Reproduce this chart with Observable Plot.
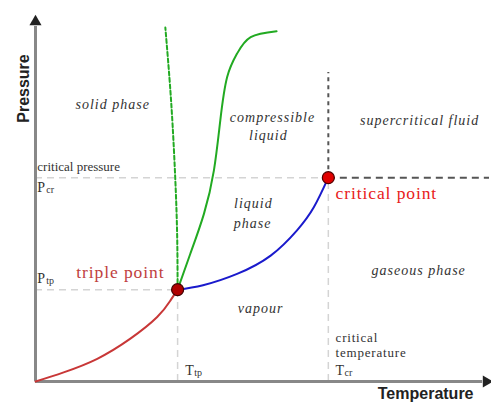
<!DOCTYPE html>
<html>
<head>
<meta charset="utf-8">
<script src="https://cdn.jsdelivr.net/npm/d3@7"></script>
<script src="https://cdn.jsdelivr.net/npm/@observablehq/plot@0.6"></script>
<style>
  body { margin: 0; background: #fff; }
  g.sp text { letter-spacing: 1px; }
  g.pt text { letter-spacing: 0.9px; }
  g.nt text { letter-spacing: 0.8px; }
</style>
</head>
<body>
<div id="chart"></div>
<script>
// Temperature / pressure in arbitrary units (0–100)
const triplePoint = {T: 31.3, P: 25.1};
const criticalPoint = {T: 64.5, P: 55.7};

const sublimationT = [0, 6.2, 13.6, 20.9, 26.8, 29.7, 31.3];
const sublimationP = [0, 2.5, 6.2, 11.7, 17.6, 22.1, 25.1];

const vaporT = [31.3, 36.9, 44.4, 51.8, 57.6, 61.3, 64.5];
const vaporP = [25.1, 26.3, 29.4, 34.4, 41.3, 47.6, 55.7];

const meltT = [31.3, 34.1, 37.1, 39.3, 40.7, 42.2, 44.4, 47.4, 53.1];
const meltP = [25.1, 34.9, 45.8, 57.7, 71.3, 83.1, 89.6, 94.1, 95.7];

const meltAnomT = [31.3, 31.2, 30.8, 30.2, 29.5, 28.6];
const meltAnomP = [25.1, 40.0, 55.0, 70.0, 83.0, 96.7];

const phaseLabels = ["solid phase", "compressible", "liquid", "supercritical fluid", "liquid", "phase", "gaseous phase", "vapour"];
const phaseT = [17.0, 52.2, 51.3, 84.6, 48.0, 47.8, 84.4, 49.6];
const phaseP = [75.7, 72.1, 67.2, 71.3, 48.5, 43.2, 30.3, 19.9];

const noteLabels = ["critical pressure", "critical", "temperature"];
const noteT = [0.4, 66.1, 66.1];
const noteP = [58.7, 12.0, 7.7];

const symLabels = ["P", "P", "T", "T"];
const symSub = ["cr", "tp", "tp", "cr"];
const symT = [0.4, 0.4, 33.0, 66.1];
const symP = [53.0, 28.1, 3.0, 3.0];

const pointLabels = ["triple point", "critical point"];

const zip = (xs, ys) => xs.map((x, i) => ({T: x, P: ys[i]}));
const sublimation = zip(sublimationT, sublimationP);
const vapor = zip(vaporT, vaporP);
const melt = zip(meltT, meltP);
const meltAnom = zip(meltAnomT, meltAnomP);
const phases = phaseLabels.map((t, i) => ({t, T: phaseT[i], P: phaseP[i]}));
const notes = noteLabels.map((t, i) => ({t, T: noteT[i], P: noteP[i]}));
const syms = symLabels.map((t, i) => ({t, s: symSub[i], T: symT[i], P: symP[i]}));

const light = "#d4d4d4";
const dark = "#555";
const serif = "'Liberation Serif', 'Times New Roman', serif";
const sans = "'Liberation Sans', Arial, sans-serif";

const chart = Plot.plot({
  width: 491,
  height: 410,
  marginLeft: 35,
  marginRight: 2,
  marginTop: 15,
  marginBottom: 29,
  x: {domain: [0, 100], axis: null},
  y: {domain: [0, 100], axis: null},
  marks: [
    // light guide lines
    Plot.ruleY([criticalPoint.P], {x1: 0, x2: criticalPoint.T, stroke: light, strokeWidth: 1.5, strokeDasharray: "7,5"}),
    Plot.ruleX([criticalPoint.T], {y1: 0, y2: criticalPoint.P, stroke: light, strokeWidth: 1.5, strokeDasharray: "7,5"}),
    Plot.ruleY([triplePoint.P], {x1: 0, x2: triplePoint.T, stroke: light, strokeWidth: 1.5, strokeDasharray: "7,5"}),
    Plot.ruleX([triplePoint.T], {y1: 0, y2: triplePoint.P, stroke: light, strokeWidth: 1.5, strokeDasharray: "7,5"}),
    // dark guide lines beyond critical point
    Plot.ruleY([criticalPoint.P], {x1: criticalPoint.T, x2: 100, stroke: dark, strokeWidth: 2, strokeDasharray: "7,5"}),
    Plot.ruleX([criticalPoint.T], {y1: criticalPoint.P, y2: 84.4, stroke: dark, strokeWidth: 2, strokeDasharray: "4,4"}),
    // axes
    Plot.ruleX([0], {y1: 0, y2: 97, stroke: "#888", strokeWidth: 3}),
    Plot.ruleY([0], {x1: 0, x2: 98.5, stroke: "#888", strokeWidth: 3}),
    Plot.dot([{T: 0, P: 98.3}], {x: "T", y: "P", symbol: "triangle", r: 4.5, fill: "#222", stroke: "none"}),
    Plot.dot([{T: 99.3, P: 0}], {x: "T", y: "P", symbol: "triangle", r: 4.5, fill: "#222", stroke: "none", rotate: 90}),
    // phase boundaries
    Plot.line(sublimation, {x: "T", y: "P", stroke: "#c83737", strokeWidth: 2, curve: "natural"}),
    Plot.line(vapor, {x: "T", y: "P", stroke: "#1a1acc", strokeWidth: 2, curve: "natural"}),
    Plot.line(melt, {x: "T", y: "P", stroke: "#22aa22", strokeWidth: 2, curve: "natural"}),
    Plot.line(meltAnom, {x: "T", y: "P", stroke: "#22aa22", strokeWidth: 2, strokeDasharray: "4,2.5", curve: "natural"}),
    // special points
    Plot.dot([triplePoint], {x: "T", y: "P", r: 6, fill: "#b00000", stroke: "#400000", strokeWidth: 1.2}),
    Plot.dot([criticalPoint], {x: "T", y: "P", r: 6, fill: "#e00000", stroke: "#500000", strokeWidth: 1.2}),
    // labels
    Plot.text(phases, {x: "T", y: "P", text: "t", fontFamily: serif, fontStyle: "italic", fontSize: 14, fill: "#333", className: "sp"}),
    Plot.text(notes.slice(0, 1), {x: "T", y: "P", text: "t", fontFamily: serif, fontSize: 13, fill: "#333", textAnchor: "start"}),
    Plot.text(notes.slice(1), {x: "T", y: "P", text: "t", fontFamily: serif, fontSize: 13, fill: "#333", textAnchor: "start", className: "nt"}),
    Plot.text(syms, {x: "T", y: "P", text: "t", fontFamily: serif, fontSize: 14, fill: "#333", textAnchor: "start"}),
    Plot.text(syms, {x: "T", y: "P", text: "s", fontFamily: serif, fontSize: 10, fill: "#333", textAnchor: "start", dx: 9, dy: 2}),
    Plot.text([{t: pointLabels[0], T: 18.7, P: 29.8}], {x: "T", y: "P", text: "t", fontFamily: serif, fontSize: 17.5, fill: "#c04040", className: "pt"}),
    Plot.text([{t: pointLabels[1], T: 66.1, P: 51.4}], {x: "T", y: "P", text: "t", fontFamily: serif, fontSize: 17.5, fill: "#e82020", textAnchor: "start", className: "pt"}),
    Plot.text(["Temperature"], {frameAnchor: "bottom-right", text: d => d, textAnchor: "end", fontFamily: sans, fontWeight: "bold", fontSize: 16, fill: "#222", dx: -16, dy: 17}),
    Plot.text(["Pressure"], {frameAnchor: "top-left", text: d => d, textAnchor: "middle", rotate: -90, fontFamily: sans, fontWeight: "bold", fontSize: 16, fill: "#222", dx: -18, dy: 73})
  ]
});
document.getElementById("chart").appendChild(chart);
</script>
</body>
</html>
